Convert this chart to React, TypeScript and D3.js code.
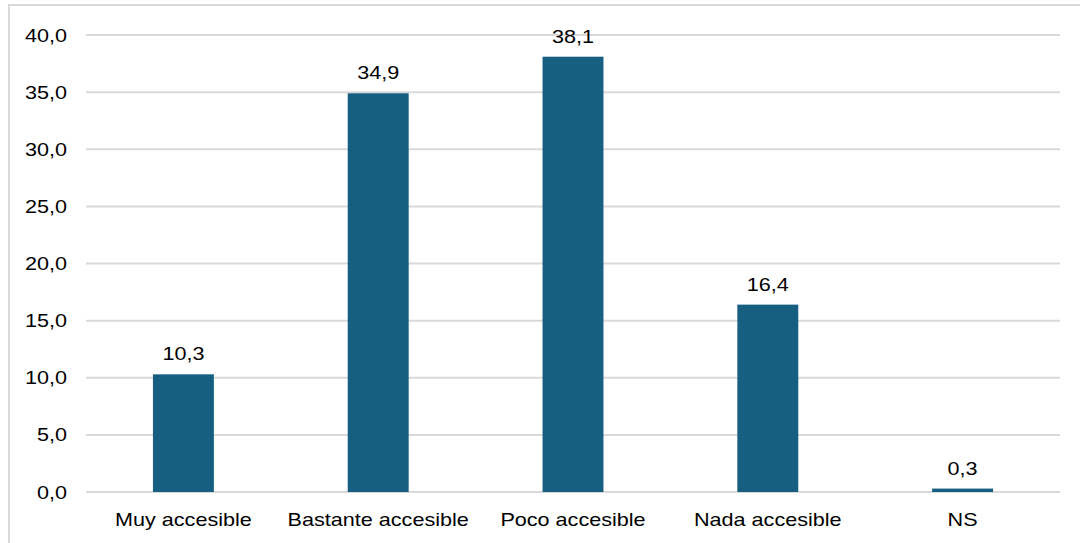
import React from "react";
import * as d3 from "d3";

const categories = ["Muy accesible", "Bastante accesible", "Poco accesible", "Nada accesible", "NS"];
const values = [10.3, 34.9, 38.1, 16.4, 0.3];
const yTicks = [0, 5, 10, 15, 20, 25, 30, 35, 40];

const W = 1080;
const H = 543;
const left = 86;
const right = 1060;
const top = 35;
const bottom = 492;

const SX = 1.2;

function T({ x, y, anchor, children }: { x: number; y: number; anchor: string; children: React.ReactNode }) {
  return (
    <g transform={`translate(${x},${y}) scale(${SX},1)`}>
      <text x={0} y={0} textAnchor={anchor} fontSize={18} fill="#000">
        {children}
      </text>
    </g>
  );
}

export default function App() {
  const x = d3.scaleBand<string>().domain(categories).range([left, right]).paddingInner(0.6872).paddingOuter(0.3436);
  const y = d3.scaleLinear().domain([0, 40]).range([bottom, top]);
  const fmt = (v: number) => v.toFixed(1).replace(".", ",");
  const font = "'Liberation Sans', Arial, sans-serif";
  return (
    <svg width={W} height={H} style={{ position: "absolute", left: 0, top: 0 }} fontFamily={font}>
      <rect x={0} y={0} width={W} height={H} fill="#fff" />
      <rect x={9} y={5} width={W + 10} height={H + 10} fill="none" stroke="#d9d9d9" strokeWidth={2} />
      {yTicks.map((t) => (
        <g key={t}>
          <line x1={left} x2={right} y1={y(t)} y2={y(t)} stroke="#d9d9d9" strokeWidth={2} />
          <T x={67} y={y(t) + 6.5} anchor="end">
            {fmt(t)}
          </T>
        </g>
      ))}
      {categories.map((c, i) => {
        const cx = (x(c) as number) + x.bandwidth() / 2;
        return (
          <g key={c}>
            <rect x={x(c)} y={y(values[i])} width={x.bandwidth()} height={bottom - y(values[i])} fill="#165f80" />
            <T x={cx} y={y(values[i]) - 14} anchor="middle">
              {fmt(values[i])}
            </T>
            <T x={cx} y={526} anchor="middle">
              {c}
            </T>
          </g>
        );
      })}
    </svg>
  );
}
